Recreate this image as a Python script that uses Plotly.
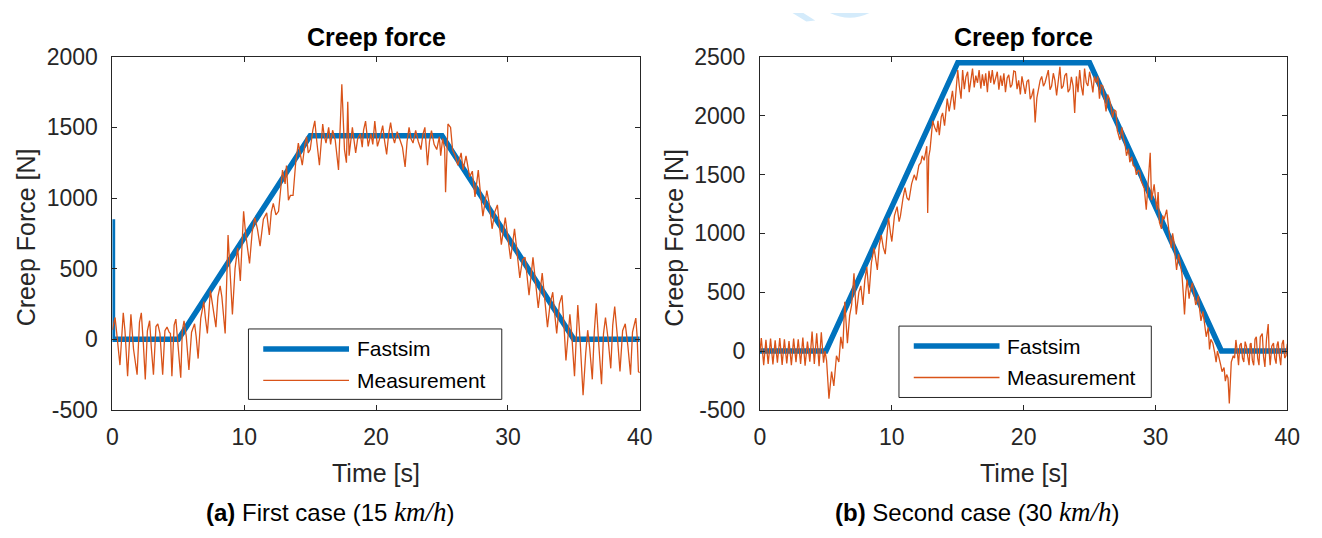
import plotly.graph_objects as go

# ---------------- data ----------------
# Case (a): 15 km/h
fastsim_a_t = [0, 0, 5, 15, 25, 35, 40]
fastsim_a_f = [850, 0, 0, 1440, 1440, 0, 0]

meas_a_t = [
    0.0, 0.2, 0.35, 0.57, 0.82, 0.95, 1.15, 1.4, 1.6, 1.87, 2.05, 2.19, 2.35, 2.49, 2.65, 2.82,
    2.95, 3.11, 3.3, 3.44, 3.6, 3.81, 3.98, 4.14, 4.3, 4.4, 4.51, 4.68, 4.81, 4.95, 5.18,
    5.3, 5.43, 5.6, 5.8, 6.0, 6.23, 6.35, 6.5, 6.7, 6.93, 7.05, 7.2, 7.43, 7.6, 7.85, 8.0,
    8.17, 8.3, 8.55, 8.77, 8.9, 9.1, 9.3, 9.5, 9.7, 9.95, 10.1, 10.4, 10.6, 10.8, 11.0, 11.2,
    11.45, 11.7, 11.9, 12.05, 12.2, 12.4, 12.6, 12.9, 13.1, 13.2, 13.35, 13.5, 13.7, 13.9,
    14.1, 14.25, 14.4, 14.6, 14.73, 14.85, 15.0,
    15.2, 15.35, 15.5, 15.7, 15.95, 16.05, 16.2, 16.4, 16.55, 16.7, 16.9, 17.15, 17.4, 17.5,
    17.6, 17.75, 17.85, 17.95, 18.1, 18.2, 18.35, 18.45, 18.6, 18.8, 18.95, 19.05, 19.2, 19.3,
    19.4, 19.6, 19.75, 19.9, 20.1, 20.3, 20.5, 20.65, 20.8, 20.95, 21.1, 21.25, 21.4, 21.6,
    21.8, 22.0, 22.2, 22.35, 22.5, 22.65, 22.8, 23.0, 23.2, 23.4, 23.55, 23.7, 23.9, 24.05,
    24.2, 24.4, 24.6, 24.8, 24.9, 25.05, 25.2, 25.27, 25.45, 25.65, 25.8, 26.0, 26.2, 26.45,
    26.6, 26.82,
    27.1, 27.3, 27.5, 27.75, 27.9, 28.1, 28.4, 28.6, 28.8, 29.0, 29.2, 29.35, 29.5, 29.8, 30.0,
    30.2, 30.5, 30.7, 30.9, 31.1, 31.3, 31.45, 31.6, 31.9, 32.1, 32.3, 32.6, 32.8, 33.0, 33.2,
    33.4, 33.55, 33.7, 33.9, 34.1, 34.25, 34.4, 34.7, 34.85, 35.05, 35.3, 35.5, 35.7, 35.9,
    36.05, 36.2, 36.4, 36.55, 36.7, 36.9, 37.1, 37.25, 37.4, 37.6, 37.8, 37.95, 38.1, 38.3,
    38.5, 38.7, 38.9, 39.1, 39.3, 39.45, 39.6, 39.7, 39.8, 39.9, 40.0,
]
meas_a_f = [
    66, 154, 20, -183, 187, 60, -262, 176, -71, -251, 120, 187, -40, -284, 60, 131,
    -60, -251, 90, 109, 41, -251, 60, 86, 50, 41, -262, 100, 142, -20, -273,
    60, 131, 20, -217, 50, 109, 20, -137, 150, 266, 150, 41, 344, 250, 86, 300,
    378, 300, 41, 738, 500, 176, 500, 648, 412, 906, 750, 536, 760, 861, 780, 659,
    850, 895, 738, 900, 962, 880, 906, 1198, 1100, 1230, 985, 1018, 1018, 1250,
    1389, 1300, 1232, 1380, 1434, 1320, 1343,
    1480, 1546, 1400, 1232, 1524, 1450, 1389, 1500, 1380, 1480, 1410, 1198, 1805, 1500,
    1343, 1250, 1681, 1300, 1420, 1500, 1390, 1320, 1420, 1456, 1360, 1480, 1545, 1420,
    1366, 1456, 1380, 1545, 1366, 1430, 1512, 1400, 1309, 1450, 1534, 1440, 1389, 1470,
    1410, 1360, 1220, 1400, 1500, 1420, 1389, 1478, 1400, 1343, 1450, 1500, 1232, 1400,
    1478, 1380, 1343, 1434, 1300, 1420, 1350, 1041, 1524, 1500, 1343, 1300, 1232, 1320,
    1200, 1299,
    1150, 1190, 1007, 1198, 1050, 872, 1052, 950, 782, 900, 951, 800, 670, 861, 720,
    569, 782, 600, 434, 560, 580, 450, 311, 580, 400, 221, 468, 300, 86, 250,
    333, 180, 41, 250, 311, 100, -150, 176, 20, -262, 243, -50, -397, -100,
    64, -60, -284, 50, 255, -50, -318, 40, 154, 0, -206, 100, 232, 20,
    -228, 60, 109, -50, -251, 50, 109, 150, 20, -230, -237,
]

# Case (b): 30 km/h
fastsim_b_t = [0, 5, 15, 25, 35, 40]
fastsim_b_f = [0, 0, 2450, 2450, 0, 0]

meas_b_t = [
    0.0, 0.1, 0.28, 0.45, 0.62, 0.8, 0.98, 1.15, 1.32, 1.5, 1.68, 1.85, 2.03, 2.2, 2.38, 2.55,
    2.73, 2.9, 3.08, 3.25, 3.42, 3.6, 3.78, 3.95, 4.12, 4.3, 4.48, 4.65, 4.82, 4.93, 5.05,
    5.23, 5.43, 5.6, 5.8, 5.98, 6.13, 6.28, 6.43, 6.63, 6.8, 6.95, 7.13, 7.3, 7.5, 7.65, 7.8,
    7.95, 8.1, 8.27, 8.45, 8.65, 8.9, 9.05, 9.2, 9.35, 9.5, 9.75, 9.9, 10.0, 10.2, 10.4,
    10.55, 10.65, 10.85, 11.0, 11.15, 11.3, 11.5, 11.7, 11.85, 12.05, 12.2, 12.3, 12.45,
    12.55, 12.65, 12.72, 12.8, 12.9, 13.1, 13.25, 13.4, 13.5, 13.6, 13.75, 13.85, 14.0,
    14.2, 14.35, 14.6, 14.75, 14.9,
    15.0, 15.12, 15.25, 15.37, 15.5, 15.62, 15.75, 15.87, 16.0, 16.12, 16.25, 16.37, 16.5,
    16.62, 16.75, 16.87, 17.0, 17.12, 17.25, 17.37, 17.5, 17.62, 17.75, 17.87, 18.0, 18.12,
    18.25, 18.37, 18.5, 18.62, 18.75, 18.87, 19.0, 19.12, 19.25, 19.37, 19.5, 19.62, 19.75,
    19.87, 20.0, 20.12, 20.25, 20.37, 20.5, 20.62, 20.75, 20.87, 21.0, 21.12, 21.25, 21.37,
    21.5, 21.62, 21.75, 21.87, 22.0, 22.12, 22.25, 22.37, 22.5, 22.62, 22.75, 22.87, 23.0,
    23.12, 23.25, 23.37, 23.5, 23.62, 23.75, 23.87, 24.0, 24.12, 24.25, 24.37, 24.5, 24.62,
    24.75, 24.87, 25.0, 25.12, 25.25, 25.37, 25.5, 25.62, 25.75, 25.87, 26.0, 26.12, 26.25,
    26.37, 26.5, 26.62, 26.75, 26.87,
    27.0, 27.1, 27.3, 27.45, 27.55, 27.7, 27.8, 27.95, 28.05, 28.2, 28.3, 28.45, 28.55, 28.7,
    28.8, 28.9, 29.0, 29.15, 29.3, 29.45, 29.6, 29.7, 29.8, 29.9, 30.0, 30.1, 30.2, 30.3,
    30.45, 30.55, 30.65, 30.85, 31.0, 31.1, 31.2, 31.3, 31.4, 31.5, 31.6, 31.75, 31.85, 32.0,
    32.1, 32.2, 32.3, 32.4, 32.55, 32.65, 32.8, 32.95, 33.05, 33.15, 33.25, 33.35, 33.45,
    33.6, 33.75, 33.85, 34.0, 34.1, 34.2, 34.35, 34.5, 34.6, 34.7, 34.8, 34.95, 35.05, 35.2,
    35.3, 35.4, 35.5, 35.6, 35.75, 35.9, 36.0, 36.1, 36.2, 36.3, 36.4, 36.5, 36.6, 36.7,
    36.8, 36.9, 37.0, 37.1, 37.18, 37.25, 37.35, 37.45, 37.55, 37.65, 37.75, 37.85, 37.95,
    38.1, 38.2, 38.3, 38.42, 38.55, 38.62, 38.7, 38.82, 38.95, 39.05, 39.15, 39.22, 39.3,
    39.4, 39.5, 39.6, 39.7, 39.8, 39.9, 40.0,
]
meas_b_f = [
    0, 110, -120, 95, -110, 105, -115, 90, -100, 110, -118, 100, -105, 85, -120, 105,
    -95, 100, -110, 115, -125, 80, -90, 165, -110, 150, -130, 160, -100, 0, -81,
    -405, -175, -297, -40, -94, 121, 20, 418, 67, 300, 391, 661, 310, 500, 553, 391,
    600, 714, 485, 750, 876, 688, 900, 984, 880, 823, 1132, 1000, 930, 1150, 1227,
    1100, 1146, 1300, 1389, 1300, 1281, 1420, 1497, 1450, 1578, 1600, 1659, 1620,
    1700, 1740, 1173, 1650, 1713, 1955, 1901, 1860, 1955, 1834, 1990, 2023, 1915,
    2144, 2036, 2211, 2050, 2250,
    2387, 2250, 2144, 2387, 2225, 2330, 2373, 2200, 2300, 2400, 2240, 2340, 2279,
    2387, 2230, 2350, 2252, 2360, 2200, 2380, 2279, 2387, 2265, 2330, 2373, 2220,
    2340, 2252, 2360, 2200, 2320, 2346, 2240, 2265, 2380, 2373, 2225, 2300, 2180,
    2333, 2250, 2185, 2290, 2306, 2140, 2171, 2230, 1942, 2150, 2225, 2300, 2333,
    2250, 2279, 2340, 2387, 2220, 2252, 2360, 2300, 2171, 2320, 2414, 2230, 2252,
    2340, 2360, 2200, 2225, 2330, 2250, 2023, 2333, 2200, 2387, 2250, 2171, 2400,
    2280, 2252, 2373, 2300, 2198, 2333, 2280, 2333, 2144, 2260, 2252, 2150, 2036,
    2180, 2144, 2080, 1982, 2050,
    2036, 1874, 1793, 1900, 1820, 1750, 1659, 1720, 1604, 1650, 1578, 1560, 1497, 1540,
    1524, 1450, 1416, 1380, 1200, 1470, 1685, 1281, 1350, 1416, 1300, 1200, 1350, 1092,
    1038, 1150, 1119, 1200, 1038, 950, 876, 1000, 930, 800, 688, 823, 750, 661,
    500, 310, 500, 607, 445, 520, 580, 450, 391, 420, 472, 350, 256,
    337, 220, 121, 200, 13, 100, 67, -20, -94, 0, -40, -120, -175, -140,
    -256, -200, -229, -445, -94, -40, -60, 94, 0, -121, 50, 67, -60, -94,
    80, 40, -50, -121, 60, 67, -80, -121, 100, 121, -60, -121, 120,
    148, -50, -135, 100, 229, 0, -121, 40, 67, -60, -108, 50, 81,
    -40, -121, 60, 94, -60, -40, 60,
]

x_ticks = [0, 10, 20, 30, 40]
x_ticktext = ["0", "10", "20", "30", "40"]
y_ticks_a = [-500, 0, 500, 1000, 1500, 2000]
y_ticktext_a = ["-500", "0", "500", "1000", "1500", "2000"]
y_ticks_b = [-500, 0, 500, 1000, 1500, 2000, 2500]
y_ticktext_b = ["-500", "0", "500", "1000", "1500", "2000", "2500"]

panel_titles = ["Creep force", "Creep force"]
y_title = "Creep Force [N]"
x_title = "Time [s]"
series_names = ["Fastsim", "Measurement"]
UNIT = "<span style=\"font-family:'Liberation Serif', serif;font-style:italic;font-size:27px\">km/h</span>"
captions = [
    "<b>(a)</b> First case (15 " + UNIT + ")",
    "<b>(b)</b> Second case (30 " + UNIT + ")",
]

# ---------------- styling ----------------
W, H = 1322, 538
BLUE = "#0072BD"
ORANGE = "#D95319"
AXC = "#262626"
FONT = "Liberation Sans, Arial, Helvetica, sans-serif"


def px(x):
    return x / W


def py(y):
    return 1 - y / H


plot_left = [108, 765]
plot_right = [643, 1300]
plot_top, plot_bottom = 46, 417

fig = go.Figure()

fig.add_trace(go.Scatter(x=fastsim_a_t, y=fastsim_a_f, mode="lines", name=series_names[0],
                         line=dict(color=BLUE, width=5.5), xaxis="x", yaxis="y", showlegend=False))
fig.add_trace(go.Scatter(x=meas_a_t, y=meas_a_f, mode="lines", name=series_names[1],
                         line=dict(color=ORANGE, width=1.3), xaxis="x", yaxis="y", showlegend=False))
fig.add_trace(go.Scatter(x=fastsim_b_t, y=fastsim_b_f, mode="lines", name=series_names[0],
                         line=dict(color=BLUE, width=5.5), xaxis="x2", yaxis="y2", showlegend=False))
fig.add_trace(go.Scatter(x=meas_b_t, y=meas_b_f, mode="lines", name=series_names[1],
                         line=dict(color=ORANGE, width=1.3), xaxis="x2", yaxis="y2", showlegend=False))

axis_common = dict(
    showline=True, linecolor=AXC, linewidth=1, mirror="ticks",
    ticks="inside", ticklen=5, tickwidth=1, tickcolor=AXC,
    showgrid=False, zeroline=False,
    tickfont=dict(family=FONT, size=23, color=AXC),
)

ydom = [py(plot_bottom), py(plot_top)]
fig.update_layout(
    width=W, height=H,
    margin=dict(l=0, r=0, t=0, b=0),
    paper_bgcolor="white", plot_bgcolor="white",
    xaxis=dict(domain=[px(plot_left[0]), px(plot_right[0])], range=[0, 40], anchor="y",
               tickvals=x_ticks, ticktext=x_ticktext, ticklabelstandoff=7, **axis_common),
    yaxis=dict(domain=ydom, range=[-500, 2000], anchor="x",
               tickvals=y_ticks_a, ticktext=y_ticktext_a, ticklabelstandoff=9, **axis_common),
    xaxis2=dict(domain=[px(plot_left[1]), px(plot_right[1])], range=[0, 40], anchor="y2",
                tickvals=x_ticks, ticktext=x_ticktext, ticklabelstandoff=7, **axis_common),
    yaxis2=dict(domain=ydom, range=[-500, 2500], anchor="x2",
                tickvals=y_ticks_b, ticktext=y_ticktext_b, ticklabelstandoff=9, **axis_common),
    showlegend=False,
)

annotations = []
shapes = []
caption_centers = [329, 986]
legend_boxes = [(246, 332, 503, 406), (906, 329, 1162, 404)]
for i in range(2):
    cx = (plot_left[i] + plot_right[i]) / 2
    annotations.append(dict(text="<b>%s</b>" % panel_titles[i], x=px(cx), y=py(25),
                            xref="paper", yref="paper", showarrow=False,
                            xanchor="center", yanchor="middle",
                            font=dict(family=FONT, size=25, color="#000000")))
    annotations.append(dict(text=x_title, x=px(cx), y=py(483), xref="paper", yref="paper",
                            showarrow=False, xanchor="center", yanchor="middle",
                            font=dict(family=FONT, size=25, color=AXC)))
    annotations.append(dict(text=y_title, x=px(plot_left[i] - 88), y=py(236),
                            xref="paper", yref="paper", showarrow=False, textangle=-90,
                            xanchor="center", yanchor="middle",
                            font=dict(family=FONT, size=25, color=AXC)))
    annotations.append(dict(text=captions[i], x=px(caption_centers[i]), y=py(524),
                            xref="paper", yref="paper", showarrow=False,
                            xanchor="center", yanchor="middle",
                            font=dict(family=FONT, size=24, color="#000000")))

    # legend box with long line samples
    x0, y0, x1, y1 = legend_boxes[i]
    shapes.append(dict(type="rect", xref="paper", yref="paper",
                       x0=px(x0), x1=px(x1), y0=py(y1), y1=py(y0),
                       line=dict(color=AXC, width=1), fillcolor="white", layer="above"))
    row_y = [y0 + 21, y0 + 54]
    styles = [(BLUE, 5.5), (ORANGE, 1.3)]
    for k in range(2):
        shapes.append(dict(type="line", xref="paper", yref="paper",
                           x0=px(x0 + 15), x1=px(x0 + 102), y0=py(row_y[k]), y1=py(row_y[k]),
                           line=dict(color=styles[k][0], width=styles[k][1]), layer="above"))
        annotations.append(dict(text=series_names[k], x=px(x0 + 108), y=py(row_y[k]),
                                xref="paper", yref="paper", showarrow=False,
                                xanchor="left", yanchor="middle",
                                font=dict(family=FONT, size=21, color="#000000")))

# faint page watermark fragment at the top edge
shapes.append(dict(type="path", xref="paper", yref="paper",
                   path="M %f,%f L %f,%f L %f,%f L %f,%f Z" % (
                       px(798), py(0), px(812), py(9), px(821), py(8), px(809), py(0)),
                   fillcolor="#d4ebfb", line=dict(width=0), layer="below"))
shapes.append(dict(type="path", xref="paper", yref="paper",
                   path="M %f,%f Q %f,%f %f,%f Z" % (
                       px(836), py(0), px(856), py(10), px(876), py(0)),
                   fillcolor="#d4ebfb", line=dict(width=0), layer="below"))

fig.update_layout(annotations=annotations, shapes=shapes)
fig.write_html("out.html")
